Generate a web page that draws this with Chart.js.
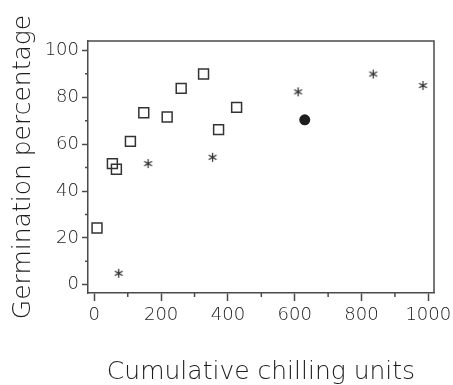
<!DOCTYPE html>
<html>
<head>
<meta charset="utf-8">
<title>Germination vs chilling units</title>
<script src="https://cdn.jsdelivr.net/npm/chart.js@4/dist/chart.umd.min.js"></script>
<style>
  html, body { margin: 0; padding: 0; background: #fff; }
  canvas { display: block; }
</style>
</head>
<body>
<canvas id="germ-chart" width="453" height="385"></canvas>
<script>
// --- data ---
const squareX = [8, 54, 66, 108, 148, 218, 260, 327, 372, 426];
const squareY = [24.2, 51.7, 49.3, 61.2, 73.4, 71.6, 83.8, 89.9, 66.2, 75.7];
const starX = [73, 161, 354, 610, 835, 984];
const starY = [4.9, 51.7, 54.4, 82.3, 89.9, 85.0];
const dotX = [630];
const dotY = [70.4];

const xTicks = [0, 200, 400, 600, 800, 1000];
const xMinorTicks = [100, 300, 500, 700, 900];
const yTicks = [0, 20, 40, 60, 80, 100];
const yMinorTicks = [10, 30, 50, 70, 90];

const ink = "#1c1c1c";
const lineInk = "#4a4a4a";
const labelFont = { family: "DejaVu Sans", size: 18, weight: "200" };
const titleFont = { family: "DejaVu Sans", size: 25, weight: "200" };

function toPoints(xs, ys) {
  return xs.map((x, i) => ({ x: x, y: ys[i] }));
}

// six-armed asterisk used as the marker of the second series
function makeAsterisk(size) {
  const c = document.createElement("canvas");
  c.width = size;
  c.height = size;
  const g = c.getContext("2d");
  const r = size / 2 - 1;
  g.strokeStyle = "#2a2a2a";
  g.lineWidth = 1.2;
  [90, 30, -30].forEach(deg => {
    const a = deg * Math.PI / 180;
    g.beginPath();
    g.moveTo(size / 2 - r * Math.cos(a), size / 2 - r * Math.sin(a));
    g.lineTo(size / 2 + r * Math.cos(a), size / 2 + r * Math.sin(a));
    g.stroke();
  });
  return c;
}

// box around the plot area plus the short minor ticks
const frameAndMinorTicks = {
  id: "frameAndMinorTicks",
  afterDraw(chart) {
    const { ctx, chartArea, scales } = chart;
    ctx.save();
    ctx.strokeStyle = lineInk;
    ctx.lineWidth = 1.5;
    ctx.beginPath();
    ctx.moveTo(chartArea.left, chartArea.top);
    ctx.lineTo(chartArea.right, chartArea.top);
    ctx.lineTo(chartArea.right, chartArea.bottom);
    ctx.stroke();

    ctx.beginPath();
    yMinorTicks.forEach(v => {
      const y = scales.y.getPixelForValue(v);
      ctx.moveTo(chartArea.left - 3, y);
      ctx.lineTo(chartArea.left, y);
    });
    xMinorTicks.forEach(v => {
      const x = scales.x.getPixelForValue(v);
      ctx.moveTo(x, chartArea.bottom);
      ctx.lineTo(x, chartArea.bottom + 4);
    });
    ctx.stroke();
    ctx.restore();
  }
};

new Chart(document.getElementById("germ-chart"), {
  type: "scatter",
  data: {
    datasets: [
      {
        data: toPoints(squareX, squareY),
        pointStyle: "rect",
        pointRadius: 7,
        borderWidth: 1.5,
        borderColor: "#333",
        backgroundColor: "rgba(0,0,0,0)"
      },
      {
        data: toPoints(starX, starY),
        pointStyle: makeAsterisk(11),
        pointRadius: 5.5
      },
      {
        data: toPoints(dotX, dotY),
        pointStyle: "circle",
        pointRadius: 5.5,
        borderWidth: 0,
        backgroundColor: "#1e1e1e"
      }
    ]
  },
  options: {
    responsive: false,
    animation: false,
    layout: { padding: { top: 41, right: 19, left: 0, bottom: 0 } },
    plugins: {
      legend: { display: false },
      tooltip: { enabled: false }
    },
    scales: {
      x: {
        type: "linear",
        min: -19,
        max: 1017,
        afterBuildTicks: s => { s.ticks = xTicks.map(v => ({ value: v })); },
        afterFit: s => { s.height = 92; s.paddingLeft = 0; s.paddingRight = 0; },
        grid: {
          drawOnChartArea: false,
          drawTicks: true,
          tickLength: 8,
          tickWidth: 1.5,
          tickColor: lineInk
        },
        border: { color: lineInk, width: 1.5 },
        ticks: {
          color: ink,
          padding: 4,
          maxRotation: 0,
          font: labelFont,
          callback: v => String(v)
        },
        title: {
          display: true,
          text: "Cumulative chilling units",
          color: ink,
          padding: { top: 0, bottom: -2 },
          font: titleFont
        }
      },
      y: {
        type: "linear",
        min: -3.5,
        max: 104,
        afterBuildTicks: s => { s.ticks = yTicks.map(v => ({ value: v })); },
        afterFit: s => { s.width = 88; s.paddingTop = 0; s.paddingBottom = 0; },
        grid: {
          drawOnChartArea: false,
          drawTicks: true,
          tickLength: 6,
          tickWidth: 1.5,
          tickColor: lineInk
        },
        border: { color: lineInk, width: 1.5 },
        ticks: {
          color: ink,
          padding: 3,
          font: labelFont,
          callback: v => String(v)
        },
        title: {
          display: true,
          text: "Germination percentage",
          color: ink,
          padding: { top: 8, bottom: 0 },
          font: titleFont
        }
      }
    }
  },
  plugins: [frameAndMinorTicks]
});
</script>
</body>
</html>
